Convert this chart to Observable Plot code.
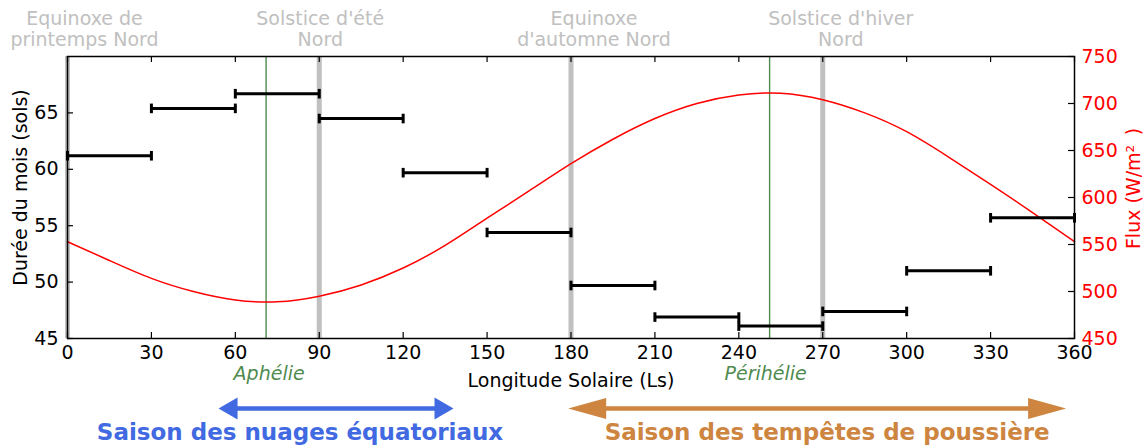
<!DOCTYPE html>
<html><head><meta charset="utf-8">
<script src="https://cdn.jsdelivr.net/npm/d3@7"></script>
<script src="https://cdn.jsdelivr.net/npm/@observablehq/plot@0.6"></script>
<style>html,body{margin:0;padding:0;background:#fff;} svg{display:block;}</style>
</head><body><div id="chart"></div>
<script>
// ---- data ----
const monthStart = [0, 30, 60, 90, 120, 150, 180, 210, 240, 270, 300, 330];
const monthEnd   = [30, 60, 90, 120, 150, 180, 210, 240, 270, 300, 330, 360];
const monthSols  = [61.2, 65.4, 66.7, 64.5, 59.7, 54.4, 49.7, 46.9, 46.1, 47.4, 51.0, 55.7];

const fluxLs     = [0, 15, 30, 45, 60, 75, 90, 105, 120, 135, 150, 165, 180, 195, 210, 225, 240, 255, 270, 285, 300, 315, 330, 345, 360];
const fluxValues = [553, 533, 514, 500, 491, 489, 495, 507, 525, 549, 578, 607, 636, 662, 684, 700, 709, 711, 704, 690, 670, 643, 614, 584, 553];

const eventLs     = [0, 90, 180, 270];
const eventLabels = ["Equinoxe de\nprintemps Nord", "Solstice d'été\nNord", "Equinoxe\nd'automne Nord", "Solstice d'hiver\nNord"];

const apsisLs     = [71, 251];
const apsisLabels = ["Aphélie", "Périhélie"];

const seasonLabels = ["Saison des nuages équatoriaux", "Saison des tempêtes de poussière"];
const seasonStart  = [54, 179];
const seasonEnd    = [138, 357];

const xTicks    = [0, 30, 60, 90, 120, 150, 180, 210, 240, 270, 300, 330, 360];
const yTicks    = [45, 50, 55, 60, 65];
const fluxTicks = [450, 500, 550, 600, 650, 700, 750];

const xTitle     = "Longitude Solaire (Ls)";
const yTitle     = "Durée du mois (sols)";
const fluxTitle  = "Flux (W/m²\u2002)";

// ---- layout / style ----
const W = 1144, H = 448, mL = 67, mR = 70, mT = 56, mB = 110;
const pw = W - mL - mR, ph = H - mT - mB;
const tk = 6;
const yDomain = [45, 70];
const fluxDomain = [450, 750];
const toY = f => yDomain[0] + (f - fluxDomain[0]) * (yDomain[1] - yDomain[0]) / (fluxDomain[1] - fluxDomain[0]);
const fromY = y => fluxDomain[0] + (y - yDomain[0]) * (fluxDomain[1] - fluxDomain[0]) / (yDomain[1] - yDomain[0]);
const FONT = "DejaVu Sans";
const green = "#4f8a4f";
const grey = "#c0c0c0";
const seasonColors = ["#4169e1", "#cd853f"];
const headLen = [19, 38], headHalf = [11, 10.5];
const seasonTextDx = [-36, 10];
const eventDx = [17, 1, 23, 18];
const apsisDx = [3, -4];

const months = monthStart.map((s, i) => ({s, e: monthEnd[i], v: monthSols[i]}));
const caps = months.flatMap(d => [{x: d.s, v: d.v}, {x: d.e, v: d.v}]);
const flux = fluxLs.map((l, i) => ({l, f: fluxValues[i]}));

const vbar = {draw(ctx, size) { const r = Math.sqrt(size / Math.PI); ctx.moveTo(0, -r); ctx.lineTo(0, r); }};
const head = (len, half, dir) => ({draw(ctx) { ctx.moveTo(0, 0); ctx.lineTo(-dir * len, -half); ctx.lineTo(-dir * len, half); ctx.closePath(); }});

const marks = [
  Plot.ruleX(eventLs, {x: d => d, stroke: grey, strokeWidth: 5}),
  Plot.ruleX(apsisLs, {x: d => d, stroke: green, strokeWidth: 1.4}),
  Plot.line(flux, {x: "l", y: d => toY(d.f), stroke: "red", strokeWidth: 1.5, curve: "natural"}),
  Plot.link(months, {x1: "s", x2: "e", y1: "v", y2: "v", stroke: "black", strokeWidth: 3}),
  Plot.dot(caps, {x: "x", y: "v", symbol: vbar, r: 4.8, stroke: "black", strokeWidth: 3, fill: "none"}),
  Plot.frame({stroke: "black", strokeWidth: 1.5}),
  // inward ticks
  Plot.ruleX(xTicks, {x: d => d, insetTop: ph - tk, stroke: "black", strokeWidth: 1.2}),
  Plot.ruleX(xTicks, {x: d => d, insetBottom: ph - tk, stroke: "black", strokeWidth: 1.2}),
  Plot.ruleY(yTicks, {y: d => d, insetRight: pw - tk, stroke: "black", strokeWidth: 1.2}),
  Plot.ruleY(fluxTicks.map(toY), {y: d => d, insetLeft: pw - tk, stroke: "black", strokeWidth: 1.2}),
  // axes labels
  Plot.axisX(xTicks, {tickSize: 0, tickPadding: 7, label: null, fontSize: 19, fontFamily: FONT, fill: "black"}),
  Plot.axisY(yTicks, {anchor: "left", tickSize: 0, tickPadding: 9, label: null, fontSize: 19, fontFamily: FONT, fill: "black"}),
  Plot.axisY(fluxTicks.map(toY), {anchor: "right", tickSize: 0, tickPadding: 7, label: null, tickFormat: d => String(Math.round(fromY(d))), fontSize: 19, fontFamily: FONT, fill: "red"}),
  Plot.text([xTitle], {text: d => d, frameAnchor: "bottom", lineAnchor: "middle", textAnchor: "middle", dy: 42, fontSize: 19, fontFamily: FONT, fill: "black"}),
  Plot.text([yTitle], {text: d => d, frameAnchor: "left", lineAnchor: "middle", textAnchor: "middle", rotate: -90, dx: -47, dy: -10, fontSize: 19, fontFamily: FONT, fill: "black"}),
  Plot.text([fluxTitle], {text: d => d, frameAnchor: "right", lineAnchor: "middle", textAnchor: "middle", rotate: -90, dx: 59, dy: -9, fontSize: 19, fontFamily: FONT, fill: "red"}),
  // event labels on top
  ...eventLabels.map((t, i) => Plot.text([t], {text: d => d, x: () => eventLs[i], frameAnchor: "top", lineAnchor: "bottom", textAnchor: "middle", lineHeight: 1.1, dy: -11, dx: eventDx[i], fontSize: 19, fontFamily: FONT, fill: grey})),
  // apsis labels
  ...apsisLabels.map((t, i) => Plot.text([t], {text: d => d, x: () => apsisLs[i], y: () => yDomain[0], dy: 35, dx: apsisDx[i], fontSize: 19, fontStyle: "italic", fontFamily: FONT, fill: green})),
  // season arrows
  ...seasonLabels.flatMap((t, i) => [
    Plot.ruleY([t], {y: () => yDomain[0], x1: () => seasonStart[i], x2: () => seasonEnd[i], insetLeft: headLen[i] - 1, insetRight: headLen[i] - 1, dy: 70, stroke: seasonColors[i], strokeWidth: 4.5}),
    Plot.dot([t], {x: () => seasonStart[i], y: () => yDomain[0], dy: 70, symbol: head(headLen[i], headHalf[i], -1), fill: seasonColors[i], stroke: "none"}),
    Plot.dot([t], {x: () => seasonEnd[i], y: () => yDomain[0], dy: 70, symbol: head(headLen[i], headHalf[i], 1), fill: seasonColors[i], stroke: "none"}),
    Plot.text([t], {text: d => d, x: () => (seasonStart[i] + seasonEnd[i]) / 2, y: () => yDomain[0], dy: 94, dx: seasonTextDx[i], fontSize: 23, fontWeight: "bold", fontFamily: FONT, fill: seasonColors[i]})
  ])
];

const chart = Plot.plot({
  width: W, height: H,
  marginLeft: mL, marginRight: mR, marginTop: mT, marginBottom: mB,
  style: {fontFamily: FONT, fontSize: "19px", background: "white", overflow: "visible"},
  x: {domain: [0, 360], axis: null},
  y: {domain: yDomain, axis: null},
  marks
});
document.getElementById("chart").append(chart);
</script>
</body></html>
